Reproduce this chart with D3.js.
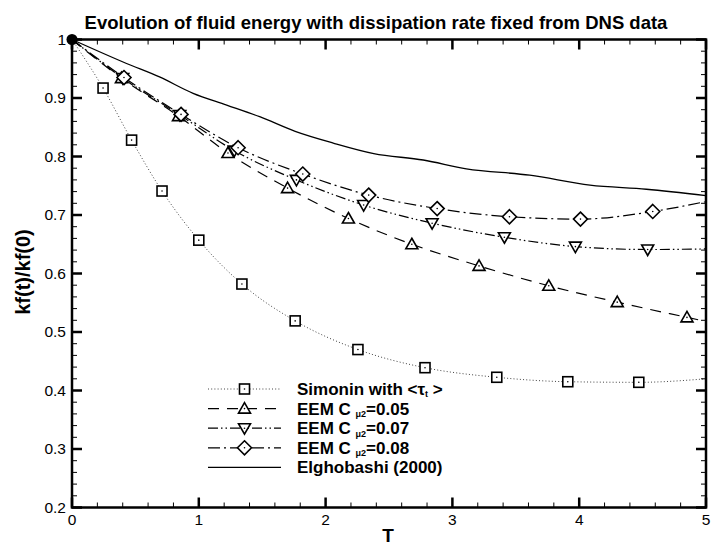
<!DOCTYPE html>
<html><head><meta charset="utf-8">
<script src="https://cdn.jsdelivr.net/npm/d3@7"></script>
<style>
body{margin:0;background:#fff;}
svg{display:block;font-family:"Liberation Sans",Arial,sans-serif;}
</style></head>
<body><svg id="c" width="712" height="548"></svg>
<script>
// ---- data ----
const xTicks = [0,1,2,3,4,5];
const yTicks = [0.2,0.3,0.4,0.5,0.6,0.7,0.8,0.9,1];
const yTickLabels = ["0.2","0.3","0.4","0.5","0.6","0.7","0.8","0.9","1"];

const simT = [0,0.245,0.47,0.71,1.0,1.34,1.76,2.255,2.784,3.35,3.91,4.47,5];
const simV = [1,0.917,0.828,0.741,0.657,0.582,0.519,0.470,0.439,0.4226,0.415,0.414,0.42];

const e05T = [0,0.39,0.84,1.23,1.70,2.18,2.68,3.21,3.76,4.30,4.85,5];
const e05V = [1,0.934,0.869,0.806,0.746,0.694,0.650,0.613,0.579,0.551,0.525,0.518];

const e07T = [0,0.40,0.85,1.28,1.77,2.30,2.84,3.41,3.97,4.54,5];
const e07V = [1,0.934,0.871,0.810,0.760,0.717,0.686,0.662,0.646,0.641,0.642];

const e08T = [0,0.41,0.86,1.31,1.82,2.34,2.88,3.45,4.01,4.58,5];
const e08V = [1,0.935,0.872,0.815,0.770,0.734,0.711,0.697,0.693,0.706,0.723];

const elgT = [0,0.43,0.69,0.955,1.22,1.48,1.76,2.06,2.38,2.77,3.11,3.61,4.085,4.53,5];
const elgV = [1,0.959,0.936,0.908,0.888,0.868,0.843,0.823,0.805,0.794,0.779,0.768,0.751,0.744,0.733];

// ---- layout ----
const svg = d3.select("#c");
const L=72, R=706, T0=39.5, B=507.5;
const x = d3.scaleLinear().domain([0,5]).range([L,R]);
const y = d3.scaleLinear().domain([0.2,1]).range([B,T0]);

const series = [
  {T:simT, V:simV, marker:"square", dash:"1,2.2", sw:1, color:"#444", label:"sim"},
  {T:e05T, V:e05V, marker:"up", dash:"11,8", sw:1.2, color:"#000", label:"0.05"},
  {T:e07T, V:e07V, marker:"down", dash:"10,3,1.5,3,1.5,3", sw:1.2, color:"#000", label:"0.07"},
  {T:e08T, V:e08V, marker:"diamond", dash:"12,4,2,4", sw:1.2, color:"#000", label:"0.08"},
  {T:elgT, V:elgV, marker:null, dash:null, sw:1.3, color:"#000", label:"elg"}
];

const line = d3.line().x(d=>x(d[0])).y(d=>y(d[1])).curve(d3.curveMonotoneX);

const g = svg.append("g");
series.forEach(s=>{
  const pts = s.T.map((t,i)=>[t,s.V[i]]);
  g.append("path").attr("d", line(pts)).attr("fill","none")
    .attr("stroke", s.color).attr("stroke-width", s.sw)
    .attr("stroke-dasharray", s.dash);
});

function drawMarker(sel, type, cx, cy){
  let p;
  if(type==="square"){
    p = sel.append("rect").attr("x",cx-5).attr("y",cy-5).attr("width",10).attr("height",10);
  } else if(type==="up"){
    p = sel.append("path").attr("d",`M${cx},${cy-6}L${cx+6},${cy+4.5}L${cx-6},${cy+4.5}Z`);
  } else if(type==="down"){
    p = sel.append("path").attr("d",`M${cx},${cy+6}L${cx+6},${cy-4.5}L${cx-6},${cy-4.5}Z`);
  } else if(type==="diamond"){
    p = sel.append("path").attr("d",`M${cx},${cy-7}L${cx+7},${cy}L${cx},${cy+7}L${cx-7},${cy}Z`);
  }
  p.attr("fill","#fff").attr("stroke","#000").attr("stroke-width",1.6);
  sel.append("circle").attr("cx",cx).attr("cy",cy).attr("r",0.8).attr("fill","#000");
}

series.forEach(s=>{
  if(!s.marker) return;
  for(let i=1;i<s.T.length-1;i++){
    if(s.T[i]>=5) continue;
    drawMarker(g, s.marker, x(s.T[i]), y(s.V[i]));
  }
});

// origin dot
g.append("circle").attr("cx",x(simT[0])).attr("cy",y(simV[0])).attr("r",5.5).attr("fill","#000");

// ---- axes frame and ticks ----
const ax = svg.append("g").attr("stroke","#000");
ax.append("rect").attr("x",L).attr("y",T0).attr("width",R-L).attr("height",B-T0)
  .attr("fill","none").attr("stroke-width",2.5);

const xMinor = d3.range(0,5.0001,0.2);
const yMinor = d3.range(0.2,1.0001,0.02);
xMinor.forEach(v=>{
  const major = Math.abs(v-Math.round(v))<1e-6;
  const len = major?10:5, w = major?2.5:1;
  ax.append("line").attr("x1",x(v)).attr("x2",x(v)).attr("y1",B).attr("y2",B-len).attr("stroke-width",w);
  ax.append("line").attr("x1",x(v)).attr("x2",x(v)).attr("y1",T0).attr("y2",T0+len).attr("stroke-width",w);
});
yMinor.forEach(v=>{
  const major = Math.abs(v*10-Math.round(v*10))<1e-6;
  const len = major?10:5, w = major?2.5:1;
  ax.append("line").attr("y1",y(v)).attr("y2",y(v)).attr("x1",L).attr("x2",L+len).attr("stroke-width",w);
  ax.append("line").attr("y1",y(v)).attr("y2",y(v)).attr("x1",R).attr("x2",R-len).attr("stroke-width",w);
});

// tick labels
svg.append("g").selectAll("text").data(xTicks).join("text")
  .attr("x",d=>x(d)).attr("y",B+17).attr("text-anchor","middle")
  .attr("font-size",15.5).text(d=>d);
svg.append("g").selectAll("text").data(yTicks).join("text")
  .attr("x",L-6).attr("y",d=>y(d)+5).attr("text-anchor","end")
  .attr("font-size",15.5).text((d,i)=>yTickLabels[i]);

// axis titles
svg.append("text").attr("x",(L+R)/2-1).attr("y",542).attr("text-anchor","middle")
  .attr("font-size",19).attr("font-weight","bold").text("T");
svg.append("text").attr("transform","translate(30,272) rotate(-90)").attr("text-anchor","middle")
  .attr("font-size",20).attr("font-weight","bold").text("kf(t)/kf(0)");

// title
svg.append("text").attr("x",376).attr("y",29).attr("text-anchor","middle")
  .attr("font-size",18.5).attr("font-weight","bold").text("Evolution of fluid energy with dissipation rate fixed from DNS data");

// ---- legend ----
const lg = svg.append("g");
const ly0 = 389, ldy = 19.6, lx1 = 208, lx2 = 281, ltx = 297;
series.forEach((s,i)=>{
  const yy = ly0 + i*ldy;
  lg.append("line").attr("x1",lx1).attr("x2",lx2).attr("y1",yy).attr("y2",yy)
    .attr("stroke",s.color).attr("stroke-width",s.sw).attr("stroke-dasharray",s.dash);
  if(s.marker) drawMarker(lg, s.marker, (lx1+lx2)/2, yy);
  const t = lg.append("text").attr("x",ltx).attr("y",yy+6).attr("font-size",17).attr("font-weight","bold");
  if(s.label==="sim"){
    t.append("tspan").text("Simonin with <τ");
    t.append("tspan").attr("font-size",9).attr("dy",2).text("t");
    t.append("tspan").attr("dy",-2).text(" >");
  } else if(s.label==="elg"){
    t.text("Elghobashi (2000)");
  } else {
    t.append("tspan").text("EEM C ");
    t.append("tspan").attr("font-size",9).attr("dy",2.5).text("μ2");
    t.append("tspan").attr("dy",-2.5).text("=" + s.label);
  }
});
</script></body></html>
